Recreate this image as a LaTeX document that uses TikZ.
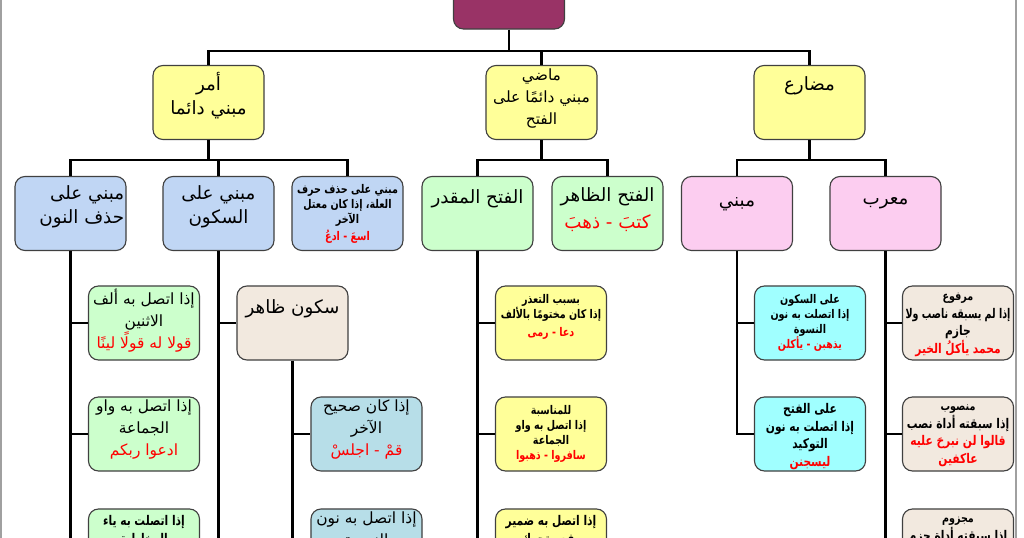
\documentclass[tikz,border=0pt]{standalone}
\usepackage{graphicx}
\usepackage{fontspec}
\setmainfont{DejaVu Sans}
\newfontfamily\arabicfont[Script=Arabic, BoldFeatures={FakeStretch=0.8}]{DejaVu Sans}
\TeXXeTstate=1
\usepackage{tikz}
\usetikzlibrary{calc}

\definecolor{rootfill}{HTML}{993366}
\definecolor{ylwfill}{HTML}{FFFF99}
\definecolor{bluefill}{HTML}{C0D6F4}
\definecolor{grnfill}{HTML}{CCFFCC}
\definecolor{pinkfill}{HTML}{FCCDF0}
\definecolor{beigefill}{HTML}{F2E9DF}
\definecolor{tealfill}{HTML}{B7DEE8}
\definecolor{cyanfill}{HTML}{A0FFFF}
\definecolor{boxline}{HTML}{404040}
\definecolor{pageline}{HTML}{A0A0A0}

\newsavebox{\arline}
\newcommand{\ar}[1]{\sbox{\arline}{\beginR #1\endR}%
  \ifdim\wd\arline>2.62cm
    \pgfmathsetmacro{\arfit}{2.62cm/\the\wd\arline}%
    \scalebox{\arfit}[1]{\usebox{\arline}}%
  \else\usebox{\arline}\fi}
\newcommand{\arred}[1]{\textcolor{red}{\ar{#1}}}
\newcommand{\boxtext}[2][0pt]{\parbox[c][1.69cm][t]{2.68cm}{\centering\vspace*{#1}#2}}
\newcommand{\boxtextr}[2][0pt]{\parbox[c][1.69cm][t]{2.68cm}{\raggedleft\vspace*{#1}#2}}
\newcommand{\fbig}{\fontsize{13}{17}\selectfont}
\newcommand{\fmid}{\fontsize{11}{15.5}\selectfont}
\newcommand{\fsmid}{\fontsize{9.5}{12.5}\selectfont\bfseries}
\newcommand{\fsmall}{\fontsize{8.5}{10.8}\selectfont\bfseries}

\tikzset{
  tbox/.style={draw=boxline, line width=0.8pt, rounded corners=0.25cm,
    minimum width=2.775cm, minimum height=1.85cm, inner xsep=0.03cm,
    inner ysep=0.08cm, font=\arabicfont},
  rootbox/.style={tbox, fill=rootfill},
  ybox/.style={tbox, fill=ylwfill},
  bbox/.style={tbox, fill=bluefill},
  gbox/.style={tbox, fill=grnfill},
  pbox/.style={tbox, fill=pinkfill},
  ebox/.style={tbox, fill=beigefill},
  tlbox/.style={tbox, fill=tealfill},
  cbox/.style={tbox, fill=cyanfill},
  conn/.style={line width=2.1pt, black},
}

\begin{document}
\begin{tikzpicture}[x=0.025cm, y=-0.025cm]
        \useasboundingbox (0,0) rectangle (1024,538);
        \clip (0,0) rectangle (1024,538);
        \fill[white] (0,0) rectangle (1024,538);

        \node[rootbox] (root) at (509,-8) {};

        \node[ybox] (amr) at (208.5,102.5) {\boxtext[0.1cm]{\fbig\ar{أمر}\\\ar{مبني دائما}}};
        \node[ybox] (madi) at (541.5,102.5) {\boxtext{\fmid\ar{ماضي}\\\ar{مبني دائمًا على}\\\ar{الفتح}}};
        \node[ybox] (mudari) at (809.5,102.5) {\boxtext[0.2cm]{\fbig\ar{مضارع}}};

        \node[bbox] (nun) at (70.5,213.5) {\boxtextr[0.15cm]{\fbig\ar{مبني على}\\\ar{حذف النون}}};
        \node[bbox] (sukun) at (218.5,213.5) {\boxtext[0.15cm]{\fbig\ar{مبني على}\\\ar{السكون}}};
        \node[bbox] (illa) at (347.5,213.5) {\boxtext[0.12cm]{\fsmall\ar{مبني على حذف حرف}\\\ar{العلة، إذا كان معتل}\\\ar{الآخر}\\[1pt]\arred{اسعَ - ادعُ}}};
        \node[gbox] (muqaddar) at (477.5,213.5) {\boxtext[0.25cm]{\fbig\ar{الفتح المقدر}}};
        \node[gbox] (zahir) at (607.5,213.5) {\boxtext[0.2cm]{\fbig\ar{الفتح الظاهر}\\[2pt]\arred{كتبَ - ذهبَ}}};
        \node[pbox] (mabni) at (737,213.5) {\boxtext[0.45cm]{\fbig\ar{مبني}}};
        \node[pbox] (murab) at (885.5,213.5) {\boxtext[0.45cm]{\fbig\ar{معرب}}};

        \node[gbox] (g1) at (144,323) {\boxtext{\fmid\ar{إذا اتصل به ألف}\\\ar{الاثنين}\\\arred{قولا له قولًا لينًا}}};
        \node[gbox] (g2) at (144,434) {\boxtext{\fmid\ar{إذا اتصل به واو}\\\ar{الجماعة}\\\arred{ادعوا ربكم}}};
        \node[gbox] (g3) at (144,546) {\boxtext[0.08cm]{\fsmid\ar{إذا اتصلت به ياء}\\\ar{المخاطبة}}};

        \node[ebox] (zsukun) at (292.5,323) {\boxtext[0.27cm]{\fbig\ar{سكون ظاهر}}};
        \node[tlbox] (t1) at (366.5,434) {\boxtext{\fmid\ar{إذا كان صحيح}\\\ar{الآخر}\\\arred{قمْ - اجلسْ}}};
        \node[tlbox] (t2) at (366.5,546) {\boxtext{\fmid\ar{إذا اتصل به نون}\\\ar{النسوة}}};

        \node[ybox] (y1) at (551,323) {\boxtext[0.12cm]{\fsmall\ar{بسبب التعذر}\\\ar{إذا كان مختومًا بالألف}\\[2pt]\arred{دعا - رمى}}};
        \node[ybox] (y2) at (551,434) {\boxtext[0.12cm]{\fsmall\ar{للمناسبة}\\\ar{إذا اتصل به واو}\\\ar{الجماعة}\\\arred{سافروا - ذهبوا}}};
        \node[ybox] (y3) at (551,546) {\boxtext[0.08cm]{\fsmid\ar{إذا اتصل به ضمير}\\\ar{رفع متحرك}}};

        \node[cbox] (c1) at (810,323) {\boxtext[0.12cm]{\fsmall\ar{على السكون}\\\ar{إذا اتصلت به نون}\\\ar{النسوة}\\\arred{يذهبن - يأكلن}}};
        \node[cbox] (c2) at (810,434) {\boxtext[0.08cm]{\fsmid\ar{على الفتح}\\\ar{إذا اتصلت به نون}\\\ar{التوكيد}\\\arred{ليسجنن}}};

        \node[ebox] (b1) at (958,323) {\boxtext[0.1cm]{\fsmall\ar{مرفوع}\\\fsmid\ar{إذا لم يسبقه ناصب ولا}\\\ar{جازم}\\\arred{محمد يأكلُ الخير}}};
        \node[ebox] (b2) at (958,434) {\boxtext[0.12cm]{\fsmall\ar{منصوب}\\\fsmid\ar{إذا سبقته أداة نصب}\\\arred{قالوا لن نبرحَ عليه}\\\arred{عاكفين}}};
        \node[ebox] (b3) at (958,546) {\boxtext[0.12cm]{\fsmall\ar{مجزوم}\\\fsmid\ar{إذا سبقته أداة جزم}}};

        \coordinate (busTop) at (509,51);
        \coordinate (busAmr) at (208.5,160);
        \coordinate (busMadi) at (541.5,160);
        \coordinate (busMudari) at (809.5,160);
        \coordinate (sukunEnd) at (218.5,560);

        \draw[conn] (root.south) -- (busTop) -| (amr.north) (busTop) -| (madi.north) (busTop) -| (mudari.north);
        \draw[conn] (amr.south) -- (busAmr) -| (nun.north) (busAmr) -| (sukun.north) (busAmr) -| (illa.north);
        \draw[conn] (madi.south) -- (busMadi) -| (muqaddar.north) (busMadi) -| (zahir.north);
        \draw[conn] (mudari.south) -- (busMudari) -| (mabni.north) (busMudari) -| (murab.north);

        \draw[conn] (nun.south) |- (g3.west) (g1.west -| nun.south) -- (g1.west) (g2.west -| nun.south) -- (g2.west);
        \draw[conn] (sukun.south) -- (sukunEnd) (zsukun.west -| sukun.south) -- (zsukun.west);
        \draw[conn] (zsukun.south) |- (t2.west) (t1.west -| zsukun.south) -- (t1.west);
        \draw[conn] (muqaddar.south) |- (y3.west) (y1.west -| muqaddar.south) -- (y1.west) (y2.west -| muqaddar.south) -- (y2.west);
        \draw[conn] (mabni.south) |- (c2.west) (c1.west -| mabni.south) -- (c1.west);
        \draw[conn] (murab.south) |- (b3.west) (b1.west -| murab.south) -- (b1.west) (b2.west -| murab.south) -- (b2.west);

        \draw[pageline, line width=1.4pt] (1,0) -- (1,538);
        \draw[pageline, line width=1.4pt] (1016,0) -- (1016,538);
      \end{tikzpicture}
\end{document}
